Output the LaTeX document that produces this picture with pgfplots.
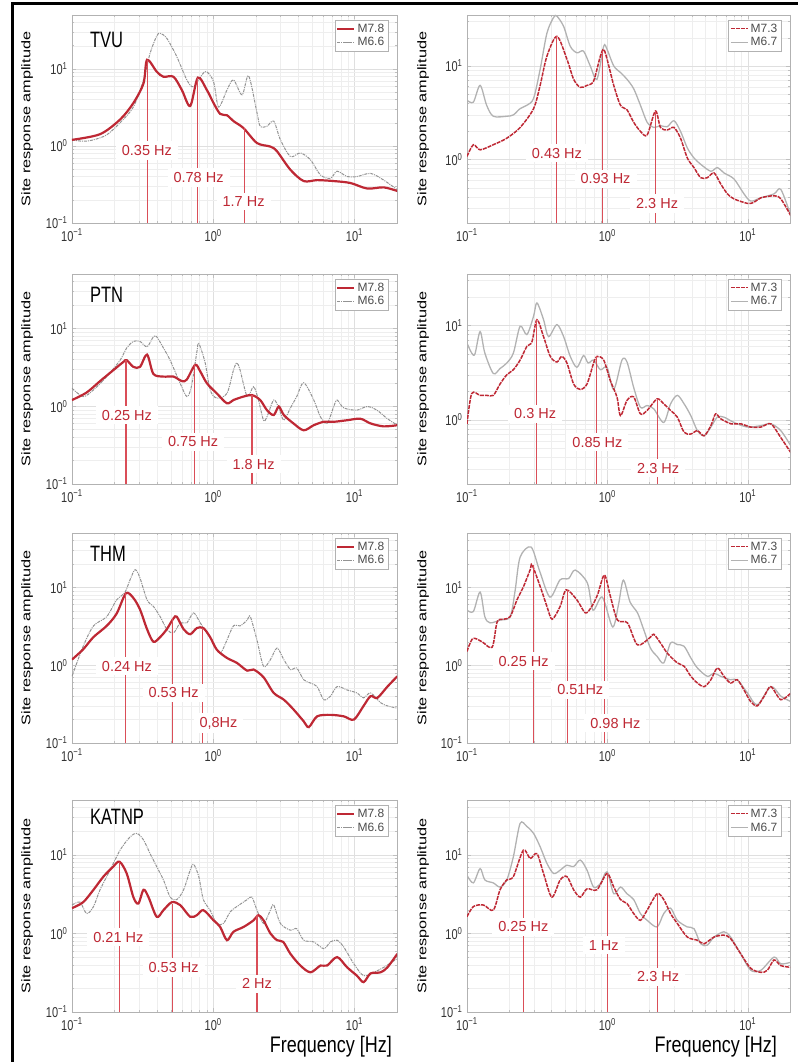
\documentclass[border=0pt]{standalone}
\usepackage{fontspec}
\setmainfont{Liberation Sans}
\usepackage{graphicx}
\usepackage{pgfplots}
\pgfplotsset{compat=1.18}

\definecolor{mred}{RGB}{190,40,52}
\definecolor{lred}{RGB}{218,78,88}

% the source figure is stretched vertically, so text is stretched too
\newcommand{\vs}[2][1.3]{\scalebox{1}[#1]{#2}}
\newcommand{\tk}[1]{\vs{10\textsuperscript{#1}}}

\tikzset{
  redthick/.style={color=mred, line width=2.2pt, smooth, tension=0.5},
  graydash/.style={color=gray!85, line width=1pt, dash pattern=on 3pt off 1pt on 1pt off 1pt, smooth, tension=0.5},
  reddash/.style={color=mred, line width=1.5pt, dash pattern=on 4pt off 1pt, smooth, tension=0.5},
  graysolid/.style={color=gray!60, line width=1.3pt, smooth, tension=0.5},
  peakline/.style={draw=lred, color=lred, line width=1.1pt},
  hzlabel/.style={fill=white, text=mred, font=\fontsize{14.5}{15}\selectfont, inner xsep=6pt, inner ysep=4pt},
  station/.style={anchor=west, font=\fontsize{16.5}{17}\selectfont},
}

\pgfplotsset{
  every axis/.append style={
    scale only axis, xmin=0.1, xmax=20,
    xtick={0.1,1,10}, xticklabels={\tk{−1},\tk{0},\tk{1}},
    minor xtick={0.2,0.3,0.4,0.5,0.6,0.7,0.8,0.9,2,3,4,5,6,7,8,9,20},
    minor ytick={0.2,0.3,0.4,0.5,0.6,0.7,0.8,0.9,2,3,4,5,6,7,8,9,20,30,40,50},
    grid=both,
    major grid style={draw=gray!25, line width=0.4pt},
    minor grid style={draw=gray!13, line width=0.3pt},
    axis line style={draw=gray!60, line width=0.8pt},
    tick style={draw=gray!50, line width=0.4pt},
    tick align=inside, major tick length=4pt, minor tick length=2pt,
    tick label style={font=\fontsize{11}{11}\selectfont, text=black!80},
    xticklabel style={yshift=-2.5pt},
    yticklabel style={xshift=-1pt},
    ylabel={\scalebox{1.3}[1]{Site response amplitude}},
    ylabel style={at={(axis description cs:-0.138,0.5)}, anchor=center, font=\fontsize{12.5}{13}\selectfont},
    legend style={at={(0.972,0.976)}, anchor=north east, draw=gray!60, fill=white,
      font=\fontsize{12}{12}\selectfont, text=black!70, inner sep=1.5pt, row sep=0pt, cells={anchor=west}},
  },
}

\begin{document}
\begin{tikzpicture}
\useasboundingbox (0pt,0pt) rectangle (798pt,1062pt);
\draw[line width=3pt] (12pt,0pt) -- (12pt,1058pt) -- (798pt,1058pt);

% ---------------- row 1 left: TVU
\begin{loglogaxis}[at={(72pt,1047pt)}, anchor=north west, width=325pt, height=208pt,
  ymin=0.1, ymax=50, ytick={0.1,1,10}, yticklabels={\tk{−1},\tk{0},\tk{1}}]
\addlegendimage{redthick}\addlegendentry{M7.8}
\addlegendimage{graydash}\addlegendentry{M6.6}
\addplot[graydash, forget plot] coordinates {(0.100,1.20) (0.120,1.15) (0.142,1.20) (0.176,1.39) (0.219,2.0) (0.272,3.2) (0.321,7.2) (0.357,15.9) (0.398,26.7) (0.421,28.9) (0.469,24.9) (0.552,14.4) (0.650,7.2) (0.726,5.9) (0.877,9.2) (1.005,6.8) (1.09,3.2) (1.25,5.3) (1.39,7.2) (1.60,4.6) (1.78,8.1) (2.04,2.7) (2.15,1.8) (2.40,1.8) (2.68,2.1) (2.99,1.2) (3.52,0.73) (4.14,0.81) (4.88,0.66) (5.74,0.42) (6.76,0.38) (7.53,0.47) (8.87,0.40) (10.4,0.40) (13.0,0.44) (16.1,0.36) (20.1,0.27)};
\addplot[redthick, forget plot] coordinates {(0.100,1.20) (0.158,1.42) (0.219,2.2) (0.272,3.6) (0.321,6.5) (0.340,13.1) (0.398,9.2) (0.444,7.9) (0.523,7.9) (0.600,5.3) (0.687,3.3) (0.778,7.7) (0.902,5.3) (1.005,3.6) (1.12,2.6) (1.25,2.5) (1.39,2.1) (1.64,1.70) (2.04,1.09) (2.54,0.98) (2.83,0.85) (3.52,0.49) (4.37,0.35) (5.44,0.36) (7.13,0.35) (9.37,0.33) (12.3,0.28) (16.1,0.29) (20.1,0.26)};
\addplot[peakline, forget plot] coordinates {(0.340,0.1) (0.340,13.1)};
\addplot[peakline, forget plot] coordinates {(0.778,0.1) (0.778,7.7)};
\addplot[peakline, forget plot] coordinates {(1.66,0.1) (1.66,1.70)};
\node[hzlabel] at (axis cs:0.339,0.87) {0.35 Hz};
\node[hzlabel] at (axis cs:0.787,0.39) {0.78 Hz};
\node[hzlabel] at (axis cs:1.64,0.19) {1.7 Hz};
\node[station] at (rel axis cs:0.045,0.88) {\vs[1.35]{TVU}};
\end{loglogaxis}

% ---------------- row 1 right
\begin{loglogaxis}[at={(467pt,1047pt)}, anchor=north west, width=323pt, height=208pt,
  ymin=0.21, ymax=35, ytick={1,10}, yticklabels={\tk{0},\tk{1}},
  ylabel style={at={(axis description cs:-0.136,0.5)}}]
\addlegendimage{reddash}\addlegendentry{M7.3}
\addlegendimage{graysolid}\addlegendentry{M6.7}
\addplot[graysolid, forget plot] coordinates {(0.100,4.3) (0.111,4.1) (0.124,6.2) (0.138,3.8) (0.154,2.9) (0.192,2.9) (0.214,3.0) (0.239,3.5) (0.267,3.8) (0.298,4.5) (0.332,9.2) (0.371,22.4) (0.414,33) (0.437,34) (0.488,26.4) (0.544,16.2) (0.607,13.8) (0.676,14.4) (0.755,10.0) (0.843,7.2) (0.941,16.2) (0.995,15.0) (1.11,10.0) (1.24,8.5) (1.38,7.2) (1.54,5.7) (1.72,3.8) (1.92,2.5) (2.14,2.2) (2.39,2.3) (2.67,2.24) (2.98,2.6) (3.32,2.0) (3.71,1.33) (4.14,1.04) (4.62,0.89) (5.45,0.75) (6.07,0.82) (6.77,0.72) (7.98,0.62) (9.40,0.43) (10.5,0.36) (12.4,0.39) (15.4,0.43) (17.2,0.48) (20.3,0.25)};
\addplot[reddash, forget plot] coordinates {(0.100,1.08) (0.111,1.44) (0.124,1.27) (0.154,1.44) (0.192,1.69) (0.239,2.2) (0.298,3.5) (0.332,6.2) (0.371,12.7) (0.437,20.7) (0.515,11.8) (0.575,7.2) (0.641,5.9) (0.716,6.2) (0.798,6.9) (0.891,12.7) (0.941,15.0) (0.995,11.8) (1.11,6.2) (1.24,3.8) (1.38,3.4) (1.54,2.5) (1.72,2.0) (1.92,1.83) (2.20,3.3) (2.39,2.2) (2.67,2.07) (2.98,2.2) (3.32,1.69) (3.71,1.04) (4.14,0.82) (4.62,0.64) (5.15,0.64) (5.75,0.72) (6.41,0.55) (7.16,0.43) (7.98,0.38) (9.95,0.34) (11.1,0.35) (12.4,0.39) (15.4,0.41) (17.2,0.38) (20.3,0.25)};
\addplot[peakline, forget plot] coordinates {(0.437,0.1) (0.437,20.7)};
\addplot[peakline, forget plot] coordinates {(0.926,0.1) (0.926,14.4)};
\addplot[peakline, forget plot] coordinates {(2.20,0.1) (2.20,3.3)};
\node[hzlabel] at (axis cs:0.437,1.17) {0.43 Hz};
\node[hzlabel] at (axis cs:0.97,0.62) {0.93 Hz};
\node[hzlabel] at (axis cs:2.26,0.34) {2.3 Hz};
\end{loglogaxis}

% ---------------- row 2 left: PTN
\begin{loglogaxis}[at={(72pt,788pt)}, anchor=north west, width=325pt, height=210pt,
  ymin=0.1, ymax=50, ytick={0.1,1,10}, yticklabels={\tk{−1},\tk{0},\tk{1}}]
\addlegendimage{redthick}\addlegendentry{M7.8}
\addlegendimage{graydash}\addlegendentry{M6.6}
\addplot[graydash, forget plot] coordinates {(0.100,1.70) (0.120,1.33) (0.142,1.62) (0.176,2.4) (0.219,3.9) (0.244,5.6) (0.272,6.8) (0.303,6.8) (0.340,5.8) (0.377,7.8) (0.398,7.8) (0.444,5.6) (0.495,3.9) (0.583,1.97) (0.650,1.33) (0.700,1.78) (0.766,5.0) (0.790,6.4) (0.877,3.6) (0.950,1.62) (1.06,1.27) (1.25,1.46) (1.39,2.9) (1.47,3.6) (1.55,2.9) (1.74,1.33) (1.93,1.78) (2.09,1.20) (2.27,0.66) (2.40,0.73) (2.68,1.20) (2.91,0.95) (3.16,0.66) (3.52,0.95) (3.90,1.33) (4.37,2.0) (5.15,1.20) (5.74,0.73) (6.40,0.60) (7.13,0.99) (7.53,1.20) (8.40,0.95) (10.4,0.89) (12.3,0.99) (14.4,0.89) (17.1,0.69) (20.1,0.57)};
\addplot[redthick, forget plot] coordinates {(0.100,1.20) (0.127,1.5) (0.158,2.1) (0.196,2.9) (0.231,3.7) (0.244,3.9) (0.272,3.2) (0.303,3.2) (0.340,4.6) (0.377,2.6) (0.444,2.4) (0.523,2.4) (0.600,2.1) (0.650,2.2) (0.745,3.4) (0.809,2.8) (0.902,1.97) (1.06,1.46) (1.25,1.09) (1.39,1.20) (1.64,1.33) (1.88,1.39) (2.15,1.20) (2.40,0.89) (2.68,0.77) (2.91,0.99) (3.16,0.77) (3.70,0.60) (4.37,0.49) (5.15,0.57) (6.06,0.63) (7.13,0.63) (8.87,0.66) (11.0,0.69) (13.0,0.60) (16.1,0.55) (20.1,0.57)};
\addplot[peakline, forget plot] coordinates {(0.241,0.1) (0.241,3.9)};
\addplot[peakline, forget plot] coordinates {(0.733,0.1) (0.733,3.5)};
\addplot[peakline, forget plot] coordinates {(1.88,0.1) (1.88,1.39)};
\node[hzlabel] at (axis cs:0.245,0.77) {0.25 Hz};
\node[hzlabel] at (axis cs:0.72,0.35) {0.75 Hz};
\node[hzlabel] at (axis cs:1.93,0.18) {1.8 Hz};
\node[station] at (rel axis cs:0.045,0.9) {\vs[1.35]{PTN}};
\end{loglogaxis}

% ---------------- row 2 right
\begin{loglogaxis}[at={(467pt,788pt)}, anchor=north west, width=323pt, height=210pt,
  ymin=0.21, ymax=35, ytick={1,10}, yticklabels={\tk{0},\tk{1}},
  ylabel style={at={(axis description cs:-0.136,0.5)}}]
\addlegendimage{reddash}\addlegendentry{M7.3}
\addlegendimage{graysolid}\addlegendentry{M6.7}
\addplot[graysolid, forget plot] coordinates {(0.100,6.5) (0.108,5.1) (0.114,5.0) (0.124,8.6) (0.134,5.1) (0.154,3.1) (0.172,3.5) (0.192,4.0) (0.214,5.1) (0.239,9.8) (0.267,8.0) (0.298,12.5) (0.315,17.3) (0.351,11.5) (0.381,7.6) (0.437,10.2) (0.488,7.6) (0.544,4.7) (0.607,3.6) (0.676,4.8) (0.730,4.0) (0.798,4.3) (0.891,3.4) (0.995,3.6) (1.11,2.1) (1.27,4.3) (1.38,4.1) (1.54,2.2) (1.72,1.36) (1.92,1.42) (2.14,1.31) (2.52,0.94) (2.82,1.48) (3.15,1.82) (3.52,1.48) (3.93,1.11) (4.38,0.77) (4.89,0.68) (5.46,0.84) (6.07,1.07) (6.77,1.07) (7.98,0.94) (9.95,0.84) (12.4,0.87) (14.6,0.91) (17.2,0.77) (20.3,0.53)};
\addplot[reddash, forget plot] coordinates {(0.100,0.91) (0.108,1.9) (0.124,1.82) (0.138,1.82) (0.154,1.82) (0.172,2.4) (0.192,3.0) (0.214,3.4) (0.239,4.3) (0.267,6.0) (0.290,6.7) (0.315,11.5) (0.351,7.6) (0.392,4.7) (0.437,4.1) (0.473,4.7) (0.515,4.0) (0.575,2.4) (0.641,2.1) (0.716,2.4) (0.798,4.0) (0.843,4.7) (0.941,4.3) (1.05,2.6) (1.17,1.75) (1.24,1.11) (1.38,1.61) (1.54,1.75) (1.72,1.16) (1.92,1.26) (2.26,1.67) (2.52,1.48) (2.82,1.26) (3.15,1.07) (3.52,0.74) (3.93,0.71) (4.38,0.77) (4.89,0.68) (5.46,0.87) (5.90,1.16) (6.41,1.03) (7.60,0.91) (8.91,0.91) (10.5,0.84) (12.4,0.84) (14.6,0.91) (17.2,0.65) (20.3,0.45)};
\addplot[peakline, forget plot] coordinates {(0.311,0.1) (0.311,11.7)};
\addplot[peakline, forget plot] coordinates {(0.834,0.1) (0.834,4.7)};
\addplot[peakline, forget plot] coordinates {(2.29,0.1) (2.29,1.67)};
\node[hzlabel] at (axis cs:0.306,1.16) {0.3 Hz};
\node[hzlabel] at (axis cs:0.85,0.58) {0.85 Hz};
\node[hzlabel] at (axis cs:2.3,0.31) {2.3 Hz};
\end{loglogaxis}

% ---------------- row 3 left: THM
\begin{loglogaxis}[at={(72pt,529pt)}, anchor=north west, width=325pt, height=210pt,
  ymin=0.1, ymax=50, ytick={0.1,1,10}, yticklabels={\tk{−1},\tk{0},\tk{1}}]
\addlegendimage{redthick}\addlegendentry{M7.8}
\addlegendimage{graydash}\addlegendentry{M6.6}
\addplot[graydash, forget plot] coordinates {(0.100,0.72) (0.120,1.75) (0.142,3.2) (0.176,4.2) (0.207,6.9) (0.236,8.5) (0.258,12.6) (0.280,16.9) (0.303,13.2) (0.340,6.9) (0.377,5.7) (0.421,4.2) (0.469,2.9) (0.523,2.6) (0.584,3.5) (0.650,3.5) (0.726,4.7) (0.809,3.5) (0.902,2.6) (1.005,1.93) (1.12,1.43) (1.25,2.1) (1.39,3.2) (1.55,3.2) (1.74,3.8) (1.83,4.2) (2.04,2.1) (2.27,0.97) (2.54,1.18) (2.83,1.66) (3.16,1.18) (3.52,0.88) (3.90,0.92) (4.37,0.65) (4.88,0.59) (5.44,0.53) (6.06,0.36) (6.76,0.40) (7.53,0.53) (8.87,0.48) (10.4,0.44) (11.6,0.38) (13.0,0.44) (15.3,0.33) (17.1,0.30) (20.1,0.28)};
\addplot[redthick, forget plot] coordinates {(0.100,1.18) (0.120,1.6) (0.142,2.3) (0.176,3.2) (0.207,4.6) (0.241,8.4) (0.272,7.3) (0.303,5.2) (0.340,2.9) (0.377,2.0) (0.421,2.3) (0.469,2.9) (0.523,4.0) (0.552,4.2) (0.617,2.9) (0.687,2.5) (0.766,3.0) (0.851,3.0) (0.950,2.3) (1.06,1.58) (1.25,1.24) (1.47,1.07) (1.74,0.85) (1.93,0.88) (2.27,0.70) (2.68,0.44) (3.16,0.36) (3.70,0.27) (4.37,0.19) (4.75,0.16) (5.44,0.22) (6.76,0.23) (8.40,0.22) (9.90,0.20) (11.6,0.30) (13.0,0.40) (14.5,0.38) (17.1,0.53) (20.1,0.72)};
\addplot[peakline, forget plot] coordinates {(0.238,0.1) (0.238,8.4)};
\addplot[peakline, forget plot] coordinates {(0.517,0.1) (0.517,4.1)};
\addplot[peakline, forget plot] coordinates {(0.845,0.1) (0.845,3.0)};
\node[hzlabel] at (axis cs:0.245,0.97) {0.24 Hz};
\node[hzlabel] at (axis cs:0.524,0.44) {0.53 Hz};
\node[hzlabel] at (axis cs:1.09,0.18) {0,8Hz};
\node[station] at (rel axis cs:0.045,0.9) {\vs[1.35]{THM}};
\end{loglogaxis}

% ---------------- row 3 right
\begin{loglogaxis}[at={(467pt,529pt)}, anchor=north west, width=323pt, height=210pt,
  ymin=0.1, ymax=50, ytick={0.1,1,10}, yticklabels={\tk{−1},\tk{0},\tk{1}},
  ylabel style={at={(axis description cs:-0.136,0.5)}}]
\addlegendimage{reddash}\addlegendentry{M7.3}
\addlegendimage{graysolid}\addlegendentry{M6.7}
\addplot[graysolid, forget plot] coordinates {(0.100,5.1) (0.111,4.9) (0.124,8.7) (0.134,4.2) (0.146,3.5) (0.172,3.8) (0.203,4.2) (0.220,9.0) (0.239,24.5) (0.286,33.0) (0.330,16.0) (0.390,7.5) (0.460,12.5) (0.530,13.0) (0.590,16.7) (0.720,11.4) (0.790,5.1) (0.920,7.5) (1.09,3.1) (1.20,6.0) (1.30,12.4) (1.45,6.5) (1.64,4.7) (1.81,2.9) (2.03,1.65) (2.26,1.30) (2.52,1.07) (2.82,1.93) (3.15,1.84) (3.52,1.75) (3.93,1.24) (4.38,0.92) (5.15,0.72) (5.75,0.79) (6.41,0.72) (7.55,0.65) (8.42,0.65) (9.95,0.44) (11.7,0.31) (14.6,0.53) (17.2,0.40) (20.3,0.34)};
\addplot[reddash, forget plot] coordinates {(0.100,1.5) (0.110,2.2) (0.128,2.0) (0.151,1.7) (0.164,3.6) (0.182,3.9) (0.203,4.2) (0.227,6.9) (0.253,10.3) (0.282,16.9) (0.291,19.4) (0.332,10.3) (0.371,5.7) (0.404,3.9) (0.461,5.7) (0.509,9.3) (0.607,6.9) (0.696,4.7) (0.770,5.6) (0.850,8.0) (0.953,14.4) (1.05,7.7) (1.18,3.8) (1.39,3.5) (1.64,1.82) (2.03,2.3) (2.14,2.5) (2.39,1.93) (2.67,1.43) (3.15,1.07) (3.52,0.97) (3.93,0.72) (4.38,0.59) (4.89,0.53) (5.46,0.65) (6.07,0.92) (6.77,0.72) (7.55,0.59) (8.42,0.65) (9.40,0.48) (10.5,0.34) (11.7,0.30) (13.1,0.40) (14.6,0.53) (17.2,0.36) (20.3,0.44)};
\addplot[peakline, forget plot] coordinates {(0.296,0.1) (0.296,19.2)};
\addplot[peakline, forget plot] coordinates {(0.518,0.1) (0.518,9.3)};
\addplot[peakline, forget plot] coordinates {(0.953,0.1) (0.953,14.4)};
\node[hzlabel] at (axis cs:0.253,1.12) {0.25 Hz};
\node[hzlabel] at (axis cs:0.641,0.48) {0.51Hz};
\node[hzlabel] at (axis cs:1.14,0.18) {0.98 Hz};
\end{loglogaxis}

% ---------------- row 4 left: KATNP
\begin{loglogaxis}[at={(72pt,262pt)}, anchor=north west, width=325pt, height=212pt,
  ymin=0.1, ymax=50, ytick={0.1,1,10}, yticklabels={\tk{−1},\tk{0},\tk{1}},
  xlabel={\vs[1.25]{Frequency [Hz]}},
  xlabel style={at={(axis description cs:0.995,0)}, anchor=north east, yshift=-21pt, font=\fontsize{18}{18}\selectfont}]
\addlegendimage{redthick}\addlegendentry{M7.8}
\addlegendimage{graydash}\addlegendentry{M6.6}
\addplot[graydash, forget plot] coordinates {(0.100,2.3) (0.114,2.5) (0.127,1.79) (0.142,2.2) (0.158,3.6) (0.186,6.4) (0.219,11.5) (0.258,17.0) (0.288,18.8) (0.321,15.5) (0.357,10.4) (0.398,7.1) (0.444,4.8) (0.496,2.9) (0.552,2.7) (0.617,3.6) (0.687,6.4) (0.726,7.6) (0.790,5.3) (0.851,2.7) (0.950,1.98) (1.06,1.34) (1.18,1.34) (1.32,1.89) (1.47,2.2) (1.74,2.7) (1.88,2.9) (2.04,1.98) (2.27,1.34) (2.54,1.98) (2.68,2.3) (2.99,1.34) (3.52,1.10) (3.90,1.15) (4.37,0.82) (5.15,0.78) (6.06,0.64) (6.76,0.78) (7.53,0.82) (8.40,0.67) (9.90,0.41) (11.6,0.29) (13.7,0.32) (16.1,0.37) (20.1,0.48)};
\addplot[redthick, forget plot] coordinates {(0.100,2.1) (0.120,2.5) (0.142,3.6) (0.167,5.3) (0.196,7.1) (0.217,8.2) (0.244,5.8) (0.272,2.9) (0.295,2.4) (0.321,3.6) (0.348,2.9) (0.398,1.63) (0.444,1.98) (0.509,2.5) (0.583,2.3) (0.687,1.63) (0.766,1.71) (0.851,1.98) (1.005,1.47) (1.12,1.21) (1.25,0.82) (1.39,1.05) (1.64,1.21) (1.93,1.47) (2.09,1.71) (2.27,1.47) (2.54,1.00) (2.83,0.82) (3.13,0.78) (3.52,0.55) (4.14,0.39) (4.88,0.32) (5.74,0.39) (6.40,0.39) (7.53,0.50) (8.87,0.37) (10.4,0.29) (11.6,0.24) (13.0,0.31) (15.3,0.32) (17.1,0.37) (20.1,0.55)};
\addplot[peakline, forget plot] coordinates {(0.217,0.1) (0.217,8.2)};
\addplot[peakline, forget plot] coordinates {(0.517,0.1) (0.517,2.4)};
\addplot[peakline, forget plot] coordinates {(2.04,0.1) (2.04,1.71)};
\node[hzlabel] at (axis cs:0.213,0.90) {0.21 Hz};
\node[hzlabel] at (axis cs:0.524,0.37) {0.53 Hz};
\node[hzlabel] at (axis cs:2.04,0.23) {2 Hz};
\node[station] at (rel axis cs:0.045,0.92) {\vs[1.35]{KATNP}};
\end{loglogaxis}

% ---------------- row 4 right
\begin{loglogaxis}[at={(467pt,262pt)}, anchor=north west, width=323pt, height=212pt,
  ymin=0.1, ymax=50, ytick={0.1,1,10}, yticklabels={\tk{−1},\tk{0},\tk{1}},
  ylabel style={at={(axis description cs:-0.136,0.5)}},
  xlabel={\vs[1.25]{Frequency [Hz]}},
  xlabel style={at={(axis description cs:0.97,0)}, anchor=north east, yshift=-21pt, font=\fontsize{18}{18}\selectfont}]
\addlegendimage{reddash}\addlegendentry{M7.3}
\addlegendimage{graysolid}\addlegendentry{M6.7}
\addplot[graysolid, forget plot] coordinates {(0.100,5.5) (0.111,4.4) (0.124,6.7) (0.134,4.8) (0.154,4.4) (0.172,3.9) (0.192,4.8) (0.214,9.5) (0.239,25.2) (0.267,23.0) (0.298,18.8) (0.332,12.7) (0.371,7.8) (0.414,5.8) (0.461,6.4) (0.515,7.4) (0.575,7.1) (0.641,8.6) (0.716,6.4) (0.798,3.9) (0.891,4.3) (0.995,6.1) (1.11,3.2) (1.24,3.9) (1.38,3.2) (1.54,2.7) (1.72,1.79) (1.92,1.47) (2.26,1.21) (2.52,1.79) (2.82,2.1) (3.15,1.47) (3.71,1.21) (4.14,1.15) (4.62,0.74) (5.15,0.71) (5.75,0.90) (6.77,1.05) (7.55,0.90) (8.91,0.55) (10.5,0.34) (12.4,0.34) (15.4,0.50) (17.2,0.41) (20.3,0.43)};
\addplot[reddash, forget plot] coordinates {(0.100,1.63) (0.111,2.2) (0.131,2.3) (0.154,1.98) (0.172,3.6) (0.192,4.8) (0.214,5.3) (0.252,11.5) (0.282,9.0) (0.315,10.4) (0.351,5.8) (0.402,2.9) (0.461,4.8) (0.515,5.3) (0.575,3.6) (0.641,2.9) (0.716,3.7) (0.843,3.6) (0.995,5.8) (1.11,3.9) (1.24,2.7) (1.38,2.4) (1.54,1.79) (1.72,1.47) (1.92,1.98) (2.26,3.2) (2.52,2.7) (2.82,1.79) (3.15,1.34) (3.71,0.90) (4.38,0.82) (4.89,0.74) (5.75,0.90) (6.77,0.95) (7.55,0.86) (8.91,0.55) (10.5,0.36) (12.4,0.32) (13.8,0.34) (15.4,0.46) (17.2,0.39) (20.3,0.37)};
\addplot[peakline, forget plot] coordinates {(0.252,0.1) (0.252,11.5)};
\addplot[peakline, forget plot] coordinates {(0.995,0.1) (0.995,5.8)};
\addplot[peakline, forget plot] coordinates {(2.29,0.1) (2.29,3.2)};
\node[hzlabel] at (axis cs:0.252,1.21) {0.25 Hz};
\node[hzlabel] at (axis cs:0.941,0.71) {1 Hz};
\node[hzlabel] at (axis cs:2.3,0.28) {2.3 Hz};
\end{loglogaxis}
\end{tikzpicture}
\end{document}
